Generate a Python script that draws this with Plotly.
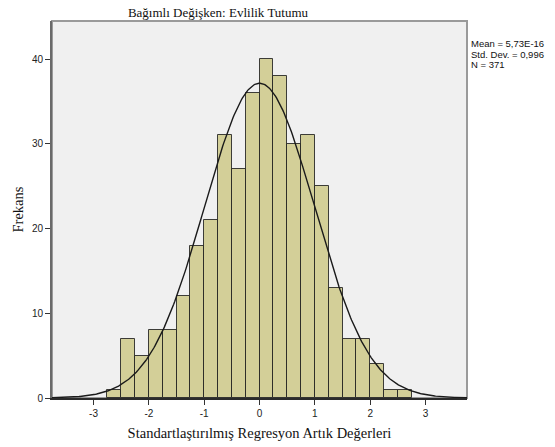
import numpy as np
import plotly.graph_objects as go

# Data
bin_lefts = [-2.75, -2.5, -2.25, -2.0, -1.75, -1.5, -1.25, -1.0, -0.75, -0.5, -0.25,
             0.0, 0.25, 0.5, 0.75, 1.0, 1.25, 1.5, 1.75, 2.0, 2.25, 2.5]
bin_width = 0.25
counts = [1, 7, 5, 8, 8, 12, 18, 21, 31, 27, 36, 40, 38, 30, 31, 25, 13, 7, 7, 4, 1, 1]
mean_val = 5.73e-16
std_val = 0.996
n_val = 371
x_ticks = [-3, -2, -1, 0, 1, 2, 3]
y_ticks = [0, 10, 20, 30, 40]
stat_lines = ["Mean = 5,73E-16", "Std. Dev. = 0,996", f"N = {n_val}"]

centers = [b + bin_width / 2 for b in bin_lefts]

fig = go.Figure()
fig.add_trace(go.Bar(
    x=centers, y=counts, width=[bin_width] * len(counts),
    marker=dict(color="#D3CF98", line=dict(color="rgba(30,30,30,0.85)", width=1)),
    hoverinfo="x+y", showlegend=False,
))

xs = np.linspace(-3.75, 3.75, 400)
ys = n_val * bin_width / (std_val * np.sqrt(2 * np.pi)) * np.exp(-0.5 * ((xs - mean_val) / std_val) ** 2)
fig.add_trace(go.Scatter(x=xs, y=ys, mode="lines", line=dict(color="#1a1a1a", width=1.4),
                         showlegend=False, hoverinfo="skip"))

serif = "Liberation Serif, Times New Roman, serif"
sans = "Liberation Sans, Arial, sans-serif"

stat_y = [0.939, 0.9111, 0.8833]
annotations = [dict(text=t, xref="paper", yref="paper", x=1.0072, y=yy, xanchor="left",
                    yanchor="middle", align="left", showarrow=False, borderpad=0,
                    font=dict(family=sans, size=9.5, color="#111"))
               for t, yy in zip(stat_lines, stat_y)]

# page has an 8px body margin: figure is sized/offset so the plot lands where the reference has it
fig.update_layout(
    width=547, height=439,
    margin=dict(l=44, r=88, t=13, b=49, autoexpand=False),
    paper_bgcolor="white", plot_bgcolor="#F0F0F0",
    bargap=0,
    title=dict(text="Bağımlı Değişken: Evlilik Tutumu", x=0.3839, xanchor="center",
               y=0.991, yanchor="middle", pad=dict(t=0, b=0),
               font=dict(family=serif, size=13, color="#111")),
    xaxis=dict(range=[-3.75, 3.75], tickvals=x_ticks, ticktext=[str(t) for t in x_ticks],
               ticks="outside", ticklen=5, tickcolor="#333", showgrid=False, zeroline=False,
               showline=True, linecolor="#2b2b2b", linewidth=2, automargin=False,
               tickfont=dict(family=sans, size=10, color="#222"),
               title=dict(text="Standartlaştırılmış Regresyon Artık Değerleri", standoff=10,
                          font=dict(family=serif, size=14.5, color="#111"))),
    yaxis=dict(range=[0, 44.5], tickvals=y_ticks, ticks="outside", ticklen=5, tickcolor="#333",
               showgrid=False, zeroline=False, showline=True, linecolor="#6a6a6a", linewidth=2,
               automargin=False,
               tickfont=dict(family=sans, size=10, color="#222"),
               title=dict(text="Frekans", standoff=5,
                          font=dict(family=serif, size=14.5, color="#111"))),
    shapes=[dict(type="rect", xref="paper", yref="paper", x0=0, x1=1, y0=0, y1=1,
                 line=dict(color="#9a9a9a", width=2), layer="below")],
    annotations=annotations,
)

fig.write_html("out.html")
